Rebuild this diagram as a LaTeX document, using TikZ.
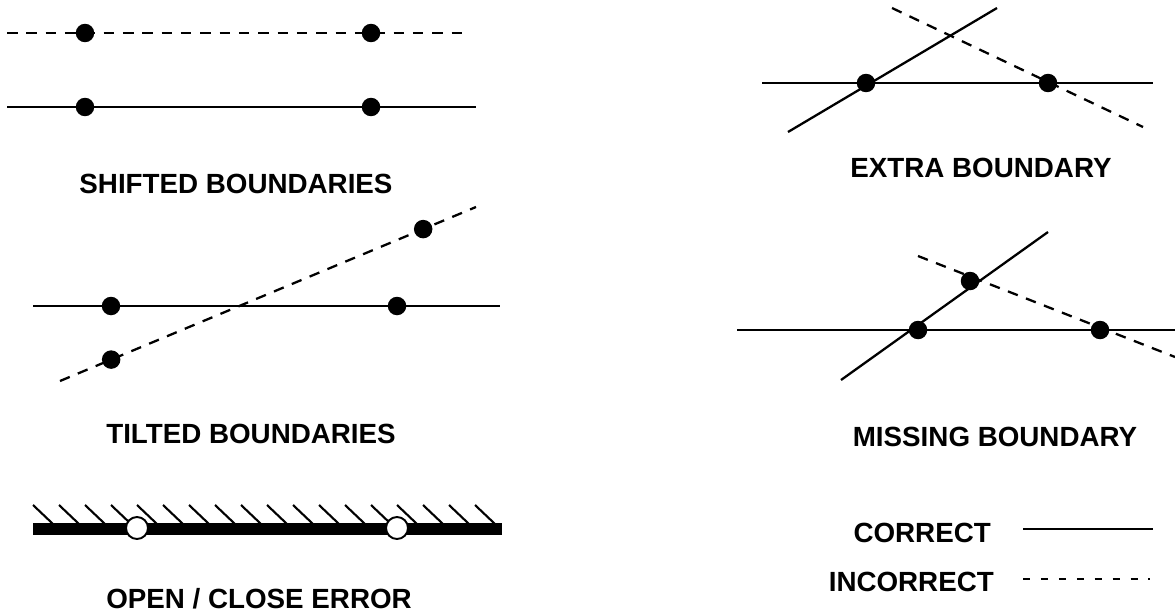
\documentclass[tikz,border=0pt]{standalone}
\usepackage{fontspec}
\setmainfont{Liberation Sans}
\usetikzlibrary{positioning, calc}
\tikzset{
  dot/.style={circle, fill=black, inner sep=0pt, minimum size=0.37cm},
  opendot/.style={circle, draw=black, fill=white, line width=1.1pt,
    inner sep=0pt, minimum size=0.44cm},
  rightline/.style={line width=1.3pt, color=black},
  wrongline/.style={line width=1.3pt, color=black, dash pattern=on 6pt off 5pt},
  legdash/.style={line width=1.3pt, color=black, dash pattern=on 4.2pt off 6pt},
  hatch/.style={line width=1.2pt, color=black},
  caption/.style={font=\bfseries\fontsize{15.8}{19}\selectfont, anchor=base},
  legtext/.style={font=\bfseries\fontsize{15.8}{19}\selectfont, anchor=base east}
}

\begin{document}
\begin{tikzpicture}[x=0.02cm, y=-0.02cm]
  \useasboundingbox (0,0) rectangle (1175,615);

  % Shifted boundaries
  \coordinate (sdL) at (7,33);   \coordinate (sdR) at (470,33);
  \coordinate (ssL) at (7,107);  \coordinate (ssR) at (476,107);
  \draw[wrongline] (sdL) -- (sdR);
  \draw[rightline] (ssL) -- (ssR);
  \node[dot] (sd1) at (85,33) {};
  \node[dot] (sd2) at (371,33) {};
  \node[dot] (ss1) at (85,107) {};
  \node[dot] (ss2) at (371,107) {};
  \node[caption] (shifted) at (236,193) {SHIFTED BOUNDARIES};

  % Tilted boundaries
  \coordinate (tsL) at (33,306);  \coordinate (tsR) at (500,306);
  \coordinate (tdL) at (60,381);  \coordinate (tdR) at (476,207);
  \draw[rightline] (tsL) -- (tsR);
  \draw[wrongline] (tdL) -- (tdR);
  \node[dot] (ts1) at (111,306) {};
  \node[dot] (ts2) at (397,306) {};
  \node[dot] (td1) at ($(tdL)!0.123!(tdR)$) {};
  \node[dot] (td2) at ($(tdL)!0.873!(tdR)$) {};
  \node[caption] (tilted) at (251,443) {TILTED BOUNDARIES};

  % Open / close error
  \coordinate (barL) at (33,529); \coordinate (barR) at (502,529);
  \foreach \i in {0,...,17}
    \draw[hatch] (33+26*\i,505) -- ++(20,19);
  \draw[line width=6.8pt] (barL) -- (barR);
  \node[opendot] (oc1) at (137,528) {};
  \node[opendot] (oc2) at (397,528) {};
  \node[caption] (openclose) at (259,608) {OPEN / CLOSE ERROR};

  % Extra boundary
  \coordinate (ehL) at (762,83);  \coordinate (ehR) at (1153,83);
  \coordinate (esL) at (788,132); \coordinate (esR) at (997,8);
  \coordinate (edL) at (892,8);   \coordinate (edR) at (1143,127);
  \draw[rightline] (ehL) -- (ehR);
  \draw[rightline] (esL) -- (esR);
  \draw[wrongline] (edL) -- (edR);
  \node[dot] (e1) at (866,83) {};
  \node[dot] (e2) at (1048,83) {};
  \node[caption] (extra) at (981,177) {EXTRA BOUNDARY};

  % Missing boundary
  \coordinate (mhL) at (737,330);  \coordinate (mhR) at (1175,330);
  \coordinate (msL) at (841,380);  \coordinate (msR) at (1048,232);
  \coordinate (mdL) at (918,256);  \coordinate (mdR) at (1175,357);
  \draw[rightline] (mhL) -- (mhR);
  \draw[rightline] (msL) -- (msR);
  \draw[wrongline] (mdL) -- (mdR);
  \node[dot] (m1) at (918,330) {};
  \node[dot] (m2) at (970,281) {};
  \node[dot] (m3) at (1100,330) {};
  \node[caption] (missing) at (995,446) {MISSING BOUNDARY};

  % Legend
  \node[legtext] (correct) at (997,542) {CORRECT};
  \node[legtext] (incorrect) at (1000,591) {INCORRECT};
  \coordinate (lcL) at (1023,529); \coordinate (lcR) at (1153,529);
  \coordinate (liL) at (1023,579); \coordinate (liR) at (1150,579);
  \draw[rightline] (lcL) -- (lcR);
  \draw[legdash] (liL) -- (liR);

\end{tikzpicture}
\end{document}
